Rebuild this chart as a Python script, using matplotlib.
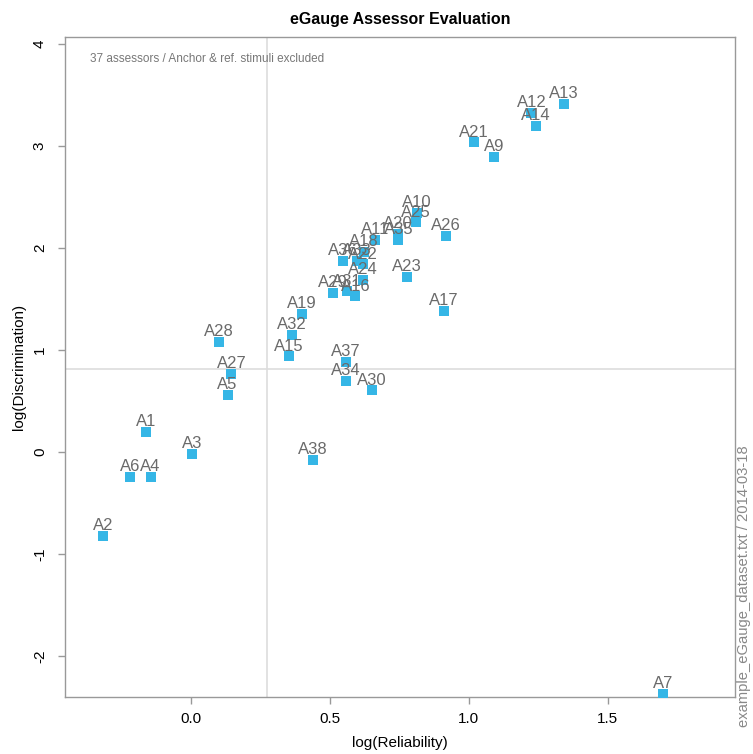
import matplotlib
matplotlib.use("Agg")
import matplotlib.pyplot as plt

plt.rcParams['font.family'] = ['Liberation Sans', 'DejaVu Sans']

# assessor labels and their log(reliability) / log(discrimination)
labels = ['A1', 'A2', 'A3', 'A4', 'A5', 'A6', 'A7', 'A9', 'A10', 'A11',
          'A12', 'A13', 'A14', 'A15', 'A16', 'A17', 'A18', 'A19', 'A20', 'A21',
          'A22', 'A23', 'A24', 'A25', 'A26', 'A27', 'A28', 'A29', 'A30', 'A31',
          'A32', 'A33', 'A34', 'A35', 'A36', 'A37', 'A38']
reliability = [-0.162, -0.317, 0.005, -0.145, 0.132, -0.219, 1.70, 1.09, 0.812, 0.662,
               1.225, 1.342, 1.241, 0.352, 0.592, 0.909, 0.622, 0.40, 0.746, 1.019,
               0.62, 0.776, 0.618, 0.808, 0.917, 0.146, 0.10, 0.512, 0.652, 0.56,
               0.362, 0.596, 0.557, 0.746, 0.546, 0.557, 0.44]
discrimination = [0.20, -0.82, -0.02, -0.24, 0.56, -0.24, -2.37, 2.89, 2.343, 2.08,
                  3.32, 3.415, 3.20, 0.937, 1.525, 1.385, 1.96, 1.356, 2.14, 3.035,
                  1.84, 1.72, 1.69, 2.25, 2.12, 0.765, 1.08, 1.56, 0.604, 1.575,
                  1.15, 1.875, 0.699, 2.08, 1.875, 0.882, -0.075]

mean_rel = 0.272
mean_disc = 0.814

xticks = [0.0, 0.5, 1.0, 1.5]
yticks = [-2, -1, 0, 1, 2, 3, 4]

fig = plt.figure(figsize=(7.53, 7.54), dpi=100)
ax = fig.add_axes([0.0863, 0.0756, 0.8897, 0.8757])

ax.axvline(mean_rel, color='#dddddd', lw=1.2, zorder=0)
ax.axhline(mean_disc, color='#dddddd', lw=1.2, zorder=0)

ax.plot(reliability, discrimination, 's', color='#35B6E6', ms=6.5, mew=0, zorder=3)
for lab, x, y in zip(labels, reliability, discrimination):
    ax.annotate(lab, (x, y), xytext=(0, 2), textcoords='offset points',
                ha='center', va='bottom', fontsize=12, color='#6a6a6a', zorder=4)

ax.set_xlim(-0.453, 1.957)
ax.set_ylim(-2.40, 4.07)
ax.set_xticks(xticks)
ax.set_xticklabels(['%.1f' % v for v in xticks])
ax.set_yticks(yticks)
ax.set_yticklabels([str(v) for v in yticks], rotation=90, va='center')

for s in ax.spines.values():
    s.set_color('#999999')
    s.set_linewidth(1)
ax.tick_params(colors='#999999', labelcolor='black', labelsize=11, length=5, width=1)
ax.tick_params(axis='x', pad=6)
ax.tick_params(axis='y', pad=8)

ax.set_xlabel('log(Reliability)', fontsize=11, labelpad=7)
ax.set_ylabel('log(Discrimination)', fontsize=11, labelpad=5)
ax.set_title('eGauge Assessor Evaluation', fontsize=11.5, fontweight='bold', pad=9)

ax.text(0.037, 0.975, '37 assessors / Anchor & ref. stimuli excluded',
        transform=ax.transAxes, fontsize=8.5, color='#777777', va='top', ha='left')
fig.text(0.988, 0.223, 'example_eGauge_dataset.txt / 2014-03-18', rotation=90,
         fontsize=10.6, color='#888888', ha='center', va='center')

fig.savefig('out.png', dpi=100)
